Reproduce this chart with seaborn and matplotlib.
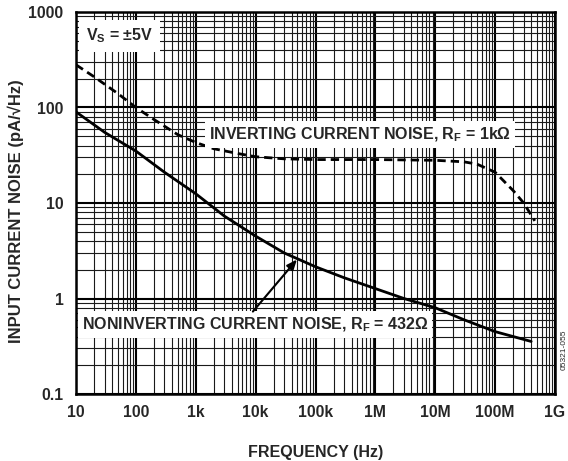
import matplotlib
matplotlib.use("Agg")
import matplotlib.pyplot as plt
import seaborn as sns
import pandas as pd
import numpy as np
from matplotlib.ticker import LogLocator, FixedLocator, FixedFormatter, NullFormatter

# ---- data ----
freq_noninv = [10, 30, 100, 300, 1e3, 3e3, 1e4, 3e4, 1e5, 3e5, 1e6, 3e6, 1e7, 3e7, 1e8, 4e8]
noise_noninv = [90, 55, 35, 21, 12.5, 7.3, 4.5, 3.0, 2.15, 1.65, 1.27, 1.0, 0.8, 0.6, 0.45, 0.355]

freq_inv = [10, 20, 50, 100, 200, 500, 1e3, 2e3, 5e3, 1e4, 3e4, 1e5, 1e6, 1e7, 3e7, 5e7, 1e8, 2e8, 3e8, 4.6e8]
noise_inv = [280, 210, 140, 100, 75, 52, 43, 37, 33, 30.5, 29, 28.5, 28.5, 28, 27, 25.5, 21, 13.5, 10, 6.5]

x_ticks = [10, 100, 1e3, 1e4, 1e5, 1e6, 1e7, 1e8, 1e9]
x_labels = ["10", "100", "1k", "10k", "100k", "1M", "10M", "100M", "1G"]
y_ticks = [0.1, 1, 10, 100, 1000]
y_labels = ["0.1", "1", "10", "100", "1000"]

sns.set_style("white")
plt.rcParams["font.family"] = ["Liberation Sans", "DejaVu Sans"]
plt.rcParams["font.weight"] = "bold"
plt.rcParams["mathtext.fontset"] = "custom"
plt.rcParams["mathtext.rm"] = "Liberation Sans:bold"
plt.rcParams["mathtext.bf"] = "Liberation Sans:bold"

df_non = pd.DataFrame({"freq": freq_noninv, "noise": noise_noninv})
df_inv = pd.DataFrame({"freq": freq_inv, "noise": noise_inv})

W, H = 568, 461
fig = plt.figure(figsize=(W / 100, H / 100), dpi=100)
ax = fig.add_axes([76 / W, 1 - 394 / H, (555 - 76) / W, (394 - 12) / H])
ax.set_xscale("log")
ax.set_yscale("log")
ax.set_xlim(10, 1e9)
ax.set_ylim(0.1, 1000)

# grid
ax.xaxis.set_major_locator(FixedLocator(x_ticks))
ax.xaxis.set_major_formatter(FixedFormatter(x_labels))
ax.yaxis.set_major_locator(FixedLocator(y_ticks))
ax.yaxis.set_major_formatter(FixedFormatter(y_labels))
ax.xaxis.set_minor_locator(LogLocator(base=10, subs=np.arange(2, 10), numticks=20))
ax.yaxis.set_minor_locator(LogLocator(base=10, subs=np.arange(2, 10), numticks=20))
ax.xaxis.set_minor_formatter(NullFormatter())
ax.yaxis.set_minor_formatter(NullFormatter())
ax.grid(which="major", color="black", linewidth=1.5, zorder=0)
ax.grid(which="minor", color="#1a1a1a", linewidth=0.8, zorder=0)
ax.set_axisbelow(True)
ax.tick_params(which="both", length=0)
ax.tick_params(axis="x", pad=8, labelsize=11.3)
ax.tick_params(axis="y", pad=9, labelsize=11.3)
for lab in ax.get_xticklabels() + ax.get_yticklabels():
    lab.set_fontweight("bold")
for s in ax.spines.values():
    s.set_color("black")
    s.set_linewidth(1.8)

sns.lineplot(data=df_non, x="freq", y="noise", ax=ax, color="black", linewidth=2.0, zorder=3)
sns.lineplot(data=df_inv, x="freq", y="noise", ax=ax, color="black", linewidth=2.0, zorder=3)
ax.lines[-1].set_dashes((3, 1.8))

ax.set_xlabel("FREQUENCY (Hz)", fontsize=11.5, fontweight="bold")
ax.xaxis.set_label_coords(0.5, -(445 - 394) / 382)
ax.set_ylabel("INPUT CURRENT NOISE (pA/\u221aHz)", fontsize=12, fontweight="bold")
ax.yaxis.set_label_coords(-(76 - 16) / 479, 0.48)
ax.yaxis.label.set_va("center")

box = dict(facecolor="white", edgecolor="none", pad=3)
ax.text(12.5, 0.53, "NONINVERTING CURRENT NOISE, R$_\\mathregular{F}$ = 432\u03a9",
        fontsize=11.5, fontweight="bold", va="center", ha="left", bbox=box, zorder=4)
ax.text(5.6e5, 52, "INVERTING CURRENT NOISE, R$_\\mathregular{F}$ = 1k\u03a9",
        fontsize=11.5, fontweight="bold", va="center", ha="center", bbox=box, zorder=4)
ax.text(14.5, 560, "V$_\\mathregular{S}$ = \u00b15V", fontsize=11.5, fontweight="bold",
        va="center", ha="left", bbox=dict(facecolor="white", edgecolor="none", pad=5), zorder=4)

ax.annotate("", xy=(4.9e4, 2.56), xytext=(9e3, 0.73),
            arrowprops=dict(arrowstyle="-|>,head_length=0.6,head_width=0.25", color="black",
                            linewidth=1.5, shrinkA=0, shrinkB=0), zorder=5)

fig.text(564 / W, 1 - 350 / H, "05321-055", rotation=90, fontsize=6, fontweight="normal",
         ha="center", va="center")

fig.savefig("out.png", dpi=100)
